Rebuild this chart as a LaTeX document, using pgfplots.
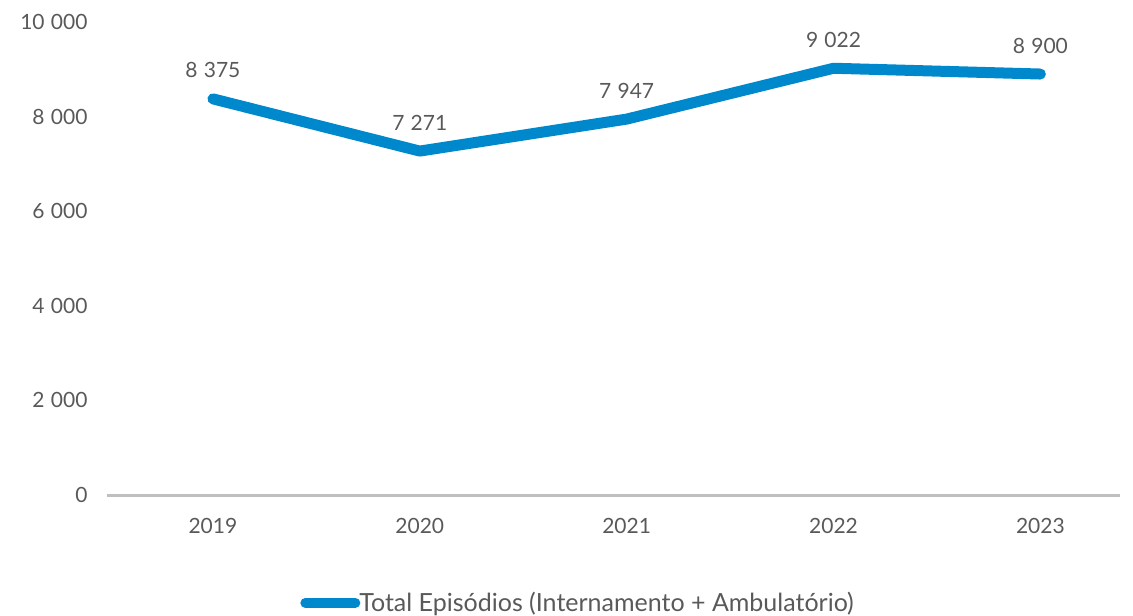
\documentclass[border=0pt]{standalone}
\usepackage{pgfplots}
\pgfplotsset{compat=1.18}
\usepackage{fontspec}
\setmainfont{Lato}
\definecolor{lineblue}{RGB}{0,136,204}
\definecolor{txt}{RGB}{89,89,89}
\definecolor{axgray}{RGB}{191,191,191}
\begin{document}
\begin{tikzpicture}
\begin{axis}[
  at={(0,0)}, anchor=south west,
  scale only axis, width=1013pt, height=473pt,
  xmin=0.488, xmax=5.385, ymin=0, ymax=10000,
  clip=false,
  axis y line*=left,
  y axis line style={draw=none},
  axis x line*=bottom,
  x axis line style={axgray, line width=3pt, -},
  xtick={1,2,3,4,5},
  xticklabels={2019,2020,2021,2022,2023},
  ytick={0,2000,4000,6000,8000,10000},
  scaled y ticks=false,
  major tick length=0pt,
  yticklabel style={text=txt, font=\fontsize{21}{23}\selectfont, anchor=east, xshift=-16pt},
  xticklabel style={text=txt, font=\fontsize{21}{23}\selectfont, yshift=-20pt},
  /pgf/number format/assume math mode=true,
  /pgf/number format/1000 sep={\hspace{0.3em}},
  yticklabel={\pgfmathprintnumber{\tick}},
  legend style={at={(axis description cs:0.465,-0.228)}, anchor=center, draw=none, fill=none,
    font=\fontsize{25}{27}\selectfont, text=txt, inner sep=0pt},
  legend cell align=left,
  legend image code/.code={\draw[lineblue, line width=10pt, line cap=round] (0pt,0pt) -- (50pt,0pt);},
  nodes near coords={\pgfplotspointmeta},
  point meta=explicit symbolic,
  every node near coord/.append style={text=txt, font=\fontsize{21}{23}\selectfont, anchor=south, yshift=12pt},
]
\addplot[lineblue, line width=11pt, line cap=round, line join=round] table[meta=lab] {
x y lab
1 8375 {8\hspace{0.3em}375}
2 7271 {7\hspace{0.3em}271}
3 7947 {7\hspace{0.3em}947}
4 9022 {9\hspace{0.3em}022}
5 8900 {8\hspace{0.3em}900}
};
\addlegendentry{\hspace{-3pt}Total Episódios (Internamento + Ambulatório)}
\end{axis}
\pgfresetboundingbox
\useasboundingbox (-107pt,-121pt) rectangle (1026pt,495pt);
\end{tikzpicture}
\end{document}
